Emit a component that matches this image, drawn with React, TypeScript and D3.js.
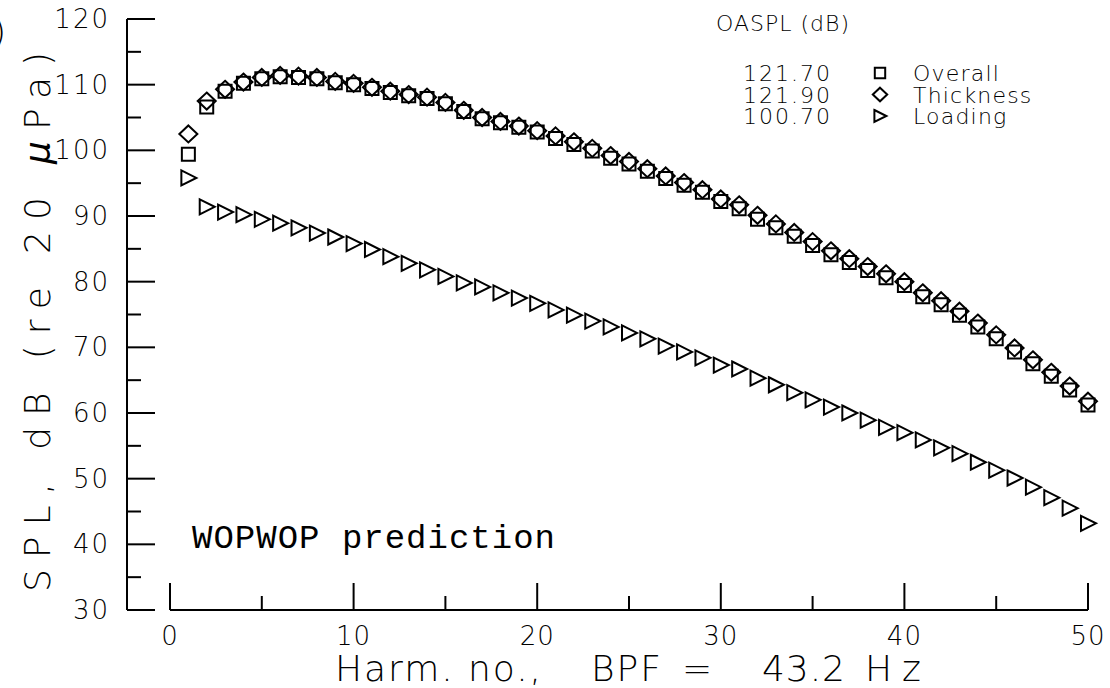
import React from 'react';
import * as d3 from 'd3';

const width = 1110;
const height = 688;

// SPL per harmonic (harmonics 1..50)
const overall = [
  99.4, 106.6, 109.0, 110.2, 110.9, 111.2, 111.1, 110.9, 110.3, 110.0,
  109.4, 108.8, 108.3, 107.9, 107.1, 105.9, 104.8, 104.2, 103.5, 102.8,
  101.8, 100.9, 99.9, 98.8, 97.9, 96.8, 95.7, 94.7, 93.6, 92.2,
  91.1, 89.5, 88.2, 86.9, 85.5, 84.1, 82.9, 81.7, 80.6, 79.4,
  77.7, 76.5, 74.9, 73.1, 71.3, 69.3, 67.5, 65.6, 63.5, 61.2
];
const thickness = [
  102.5, 107.5, 109.3, 110.4, 111.1, 111.4, 111.3, 111.1, 110.5, 110.2,
  109.6, 109.0, 108.5, 108.1, 107.3, 106.1, 105.0, 104.4, 103.7, 103.0,
  102.2, 101.3, 100.3, 99.2, 98.3, 97.2, 96.1, 95.1, 94.0, 92.6,
  91.7, 90.1, 88.8, 87.5, 86.1, 84.7, 83.5, 82.3, 81.2, 80.0,
  78.3, 77.1, 75.5, 73.7, 71.9, 69.9, 68.1, 66.2, 64.1, 61.8
];
const loading = [
  95.8, 91.4, 90.6, 90.2, 89.5, 88.9, 88.2, 87.4, 86.8, 85.8,
  84.9, 83.8, 82.8, 81.8, 80.8, 79.8, 79.2, 78.3, 77.5, 76.7,
  75.7, 74.9, 74.0, 73.1, 72.2, 71.3, 70.2, 69.3, 68.4, 67.3,
  66.7, 65.3, 64.3, 63.1, 62.0, 60.9, 60.0, 58.9, 57.8, 57.0,
  55.9, 54.7, 53.8, 52.5, 51.3, 50.1, 48.7, 47.1, 45.5, 43.2
];

const seriesNames = ['Overall', 'Thickness', 'Loading'];
const oasplValues = ['121.70', '121.90', '100.70'];
const xTicks = [0, 10, 20, 30, 40, 50];
const xMinor = [5, 15, 25, 35, 45];
const yTicks = [30, 40, 50, 60, 70, 80, 90, 100, 110, 120];
const yMinor = [35, 45, 55, 65, 75, 85, 95, 105, 115];

const x = d3.scaleLinear().domain([0, 50]).range([170, 1088]);
const y = d3.scaleLinear().domain([30, 120]).range([610, 19]);
const axisX = 127;

// marker shapes, size is used as a scale factor
const squareType = {
  draw(ctx, size) {
    const s = 6.5 * size;
    ctx.rect(-s, -s, 2 * s, 2 * s);
  }
};
const diamondType = {
  draw(ctx, size) {
    const w = 9 * size, h = 8.5 * size;
    ctx.moveTo(0, -h);
    ctx.lineTo(w, 0);
    ctx.lineTo(0, h);
    ctx.lineTo(-w, 0);
    ctx.closePath();
  }
};
const triangleType = {
  draw(ctx, size) {
    ctx.moveTo(-7 * size, -7.5 * size);
    ctx.lineTo(8 * size, 0);
    ctx.lineTo(-7 * size, 7.5 * size);
    ctx.closePath();
  }
};

const symbols = [squareType, diamondType, triangleType];
const series = [overall, thickness, loading];

const plotFont = '"DejaVu Sans", sans-serif';

export default function App() {
  const sym = (i, s) => d3.symbol().type(symbols[i]).size(s)();

  return (
    <svg width={width} height={height} style={{ display: 'block', position: 'absolute', left: 0, top: 0 }}>
      <rect width={width} height={height} fill="#fff" />
      <g stroke="#000" strokeWidth={2} fill="none">
        {/* y axis */}
        <line x1={axisX} x2={axisX} y1={y(120)} y2={y(30)} />
        {yTicks.map(t => (
          <line key={t} x1={axisX} x2={axisX + 28} y1={y(t)} y2={y(t)} />
        ))}
        {yMinor.map(t => (
          <line key={t} x1={axisX} x2={axisX + 14} y1={y(t)} y2={y(t)} />
        ))}
        {/* x axis */}
        <line x1={x(0)} x2={x(50)} y1={y(30)} y2={y(30)} />
        {xTicks.map(t => (
          <line key={t} x1={x(t)} x2={x(t)} y1={y(30)} y2={y(30) - 27} />
        ))}
        {xMinor.map(t => (
          <line key={t} x1={x(t)} x2={x(t)} y1={y(30)} y2={y(30) - 14} />
        ))}
      </g>

      <g fontFamily={plotFont} fontWeight={200} fill="#000">
        {yTicks.map(t => (
          <text key={t} x={110} y={y(t) + 9} textAnchor="end" fontSize={26} letterSpacing={2}>
            {t}
          </text>
        ))}
        {xTicks.map(t => (
          <text key={t} x={x(t)} y={645} textAnchor="middle" fontSize={26} letterSpacing={1}>
            {t}
          </text>
        ))}
        <text x={335} y={681} fontSize={36} textLength={206} lengthAdjust="spacing">Harm. no.,</text>
        <text x={591} y={681} fontSize={36} textLength={70} lengthAdjust="spacing">BPF</text>
        <text x={682} y={681} fontSize={36}>=</text>
        <text x={762} y={681} fontSize={36} textLength={83} lengthAdjust="spacing">43.2</text>
        <text x={865} y={681} fontSize={36} textLength={56} lengthAdjust="spacing">Hz</text>
        <text
          transform={`translate(50, ${322}) rotate(-90)`}
          textAnchor="middle"
          fontSize={36}
          textLength={540}
          lengthAdjust="spacing"
        >
          SPL, dB (re 20 <tspan fontStyle="italic">μ</tspan>Pa)
        </text>
        <text x={6} y={44} textAnchor="end" fontSize={34}>(b)</text>

        {/* legend */}
        <text x={716} y={31} fontSize={22} letterSpacing={1}>OASPL (dB)</text>
        {seriesNames.map((name, i) => {
          const by = 81 + i * 21.5;
          return (
            <g key={name}>
              <text x={743} y={by} fontSize={22} letterSpacing={2}>{oasplValues[i]}</text>
              <path
                d={sym(i, 0.8)}
                transform={`translate(880, ${by - 8})`}
                fill="none"
                stroke="#000"
                strokeWidth={2}
              />
              <text x={913} y={by} fontSize={22} letterSpacing={1.2}>{name}</text>
            </g>
          );
        })}
      </g>

      <text
        x={192}
        y={548}
        fontFamily='"Liberation Mono", "Courier New", monospace'
        fontSize={34}
        textLength={363}
        lengthAdjust="spacing"
      >
        WOPWOP prediction
      </text>

      {/* data markers */}
      {series.map((vals, si) => (
        <g key={si} fill="none" stroke="#000" strokeWidth={2}>
          {vals.map((v, i) => (
            <path key={i} d={sym(si, 1)} transform={`translate(${x(i + 1)}, ${y(v)})`} />
          ))}
        </g>
      ))}
    </svg>
  );
}
